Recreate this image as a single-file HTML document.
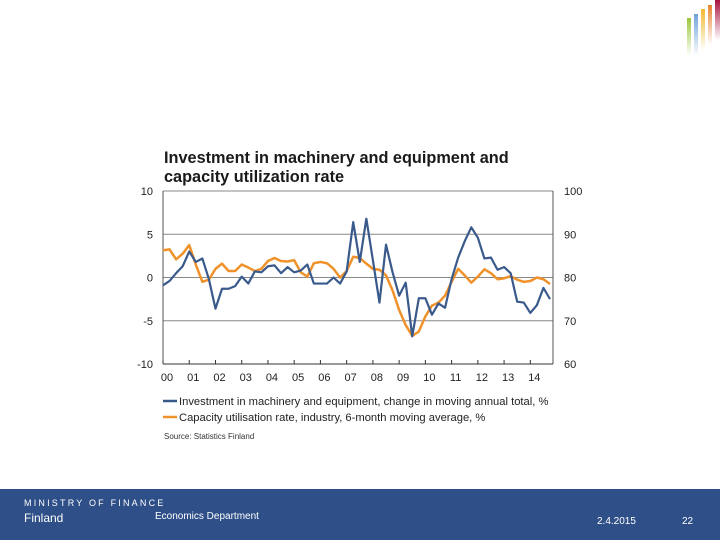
<!DOCTYPE html>
<html><head><meta charset="utf-8"><style>
body{margin:0;width:720px;height:540px;background:#fff;position:relative;overflow:hidden;font-family:"Liberation Sans",sans-serif}
.footer{position:absolute;left:0;top:489px;width:720px;height:51px;background:#2e4f87;color:#fff}
.footer div{position:absolute;white-space:nowrap}
</style></head><body>
<div style="position:absolute;left:686px;top:0;width:34px;height:60px">
<div style="position:absolute;left:1px;top:18px;width:4px;height:38px;background:linear-gradient(#9cc73a,rgba(156,199,58,0))"></div>
<div style="position:absolute;left:8px;top:14px;width:4px;height:42px;background:linear-gradient(#6fa3d8,rgba(111,163,216,0))"></div>
<div style="position:absolute;left:15px;top:9px;width:4px;height:42px;background:linear-gradient(#f2b931,rgba(242,185,49,0))"></div>
<div style="position:absolute;left:22px;top:5px;width:4px;height:40px;background:linear-gradient(#e8842f,rgba(232,132,47,0))"></div>
<div style="position:absolute;left:29px;top:0;width:5px;height:40px;background:linear-gradient(#a8123e,rgba(168,18,62,0))"></div>
</div>
<svg id="chart" width="720" height="540" style="position:absolute;left:0;top:0" font-family="Liberation Sans, sans-serif"></svg>
<div class="footer">
<div style="left:24px;top:9px;font-size:9px;letter-spacing:2.2px">MINISTRY OF FINANCE</div>
<div style="left:24px;top:22px;font-size:12px">Finland</div>
<div style="left:155px;top:22px;font-size:10px">Economics Department</div>
<div style="left:597px;top:27px;font-size:10px">2.4.2015</div>
<div style="left:682px;top:27px;font-size:10px">22</div>
</div>
<script>
const years=["00","01","02","03","04","05","06","07","08","09","10","11","12","13","14"];
const leftTicks=[10,5,0,-5,-10];
const rightTicks=[100,90,80,70,60];
const investment=[-0.9,-0.4,0.5,1.3,3.0,1.8,2.2,-0.2,-3.6,-1.3,-1.3,-1.0,0.1,-0.7,0.7,0.6,1.3,1.4,0.5,1.2,0.6,0.8,1.5,-0.7,-0.7,-0.7,0.0,-0.7,0.7,6.4,1.8,6.8,2.0,-2.9,3.8,0.6,-2.1,-0.6,-6.8,-2.4,-2.4,-4.3,-3.0,-3.5,-0.2,2.3,4.2,5.8,4.6,2.2,2.3,0.9,1.2,0.5,-2.8,-2.9,-4.1,-3.2,-1.2,-2.5];
const capacity=[86.3,86.5,84.2,85.5,87.5,83,79,79.5,82,83.2,81.5,81.5,83,82.3,81.5,82,83.8,84.5,83.8,83.7,84,81.2,80.2,83.3,83.6,83.3,82,80,81.5,84.8,84.5,83.2,82,81.8,80.5,77,72.5,69,66.5,67.5,71,73.5,74.2,75.8,79,82,80.5,78.8,80.2,81.9,81,79.6,79.8,80.3,79.5,79,79.2,80,79.6,78.5];
const svg=document.getElementById('chart');const NS='http://www.w3.org/2000/svg';
function mk(t,a,name,txt){const e=document.createElementNS(NS,t);for(const k in a)e.setAttribute(k,a[k]);


if(txt!==undefined)e.textContent=txt;svg.appendChild(e);return e;}
const X0=163,X1=553,Y0=191,Y1=364,XE=550;
const n=investment.length;
const xq=i=>X0+i*(XE-X0)/(n-1);
const xYear=k=>X0+k*(XE-X0)*4/(n-1);
const yL=v=>Y1-(v+10)/20*(Y1-Y0);
const yR=v=>Y1-(v-60)/40*(Y1-Y0);
mk('text',{x:164,y:163,'font-size':16.3,'font-weight':'bold',fill:'#1a1a1a'},'title-line1','Investment in machinery and equipment and');
mk('text',{x:164,y:182,'font-size':16.3,'font-weight':'bold',fill:'#1a1a1a'},'title-line2','capacity utilization rate');
leftTicks.forEach(v=>{const y=yL(v);
mk('line',{x1:X0,x2:X1,y1:y,y2:y,stroke:'#888','stroke-width':1},'gridline');
mk('text',{x:153,y:y+4,'font-size':11,'text-anchor':'end',fill:'#222'},'left-tick-label',v);});
rightTicks.forEach(v=>{mk('text',{x:564,y:yR(v)+4,'font-size':11,fill:'#222'},'right-tick-label',v);});
mk('line',{x1:X0,x2:X0,y1:Y0,y2:Y1,stroke:'#555'},'y-axis-left');
mk('line',{x1:X1,x2:X1,y1:Y0,y2:Y1,stroke:'#555'},'y-axis-right');
mk('line',{x1:X0,x2:X1,y1:Y1,y2:Y1,stroke:'#333'},'x-axis');
years.forEach((l,k)=>{const x=xYear(k);
mk('line',{x1:x,x2:x,y1:Y1,y2:Y1-4,stroke:'#333'},'x-tick');
mk('text',{x:x+4,y:381,'font-size':11,'text-anchor':'middle',fill:'#222'},'x-tick-label',l);});
mk('polyline',{points:capacity.map((v,i)=>xq(i)+','+yR(v)).join(' '),fill:'none',stroke:'#f0922b','stroke-width':2.5,'stroke-linejoin':'round'},'capacity-line');
mk('polyline',{points:investment.map((v,i)=>xq(i)+','+yL(v)).join(' '),fill:'none',stroke:'#3a5a8c','stroke-width':2.2,'stroke-linejoin':'round'},'investment-line');
mk('line',{x1:163,x2:177,y1:401,y2:401,stroke:'#3a5a8c','stroke-width':2.5},'legend-swatch-investment');
mk('text',{x:179,y:405,'font-size':11.2,fill:'#222'},'legend-entry-investment','Investment in machinery and equipment, change in moving annual total, %');
mk('line',{x1:163,x2:177,y1:417,y2:417,stroke:'#f0922b','stroke-width':2.5},'legend-swatch-capacity');
mk('text',{x:179,y:421,'font-size':11.2,fill:'#222'},'legend-entry-capacity','Capacity utilisation rate, industry, 6-month moving average, %');
mk('text',{x:164,y:439,'font-size':8,fill:'#333'},'source-note','Source: Statistics Finland');
</script>
</body></html>
